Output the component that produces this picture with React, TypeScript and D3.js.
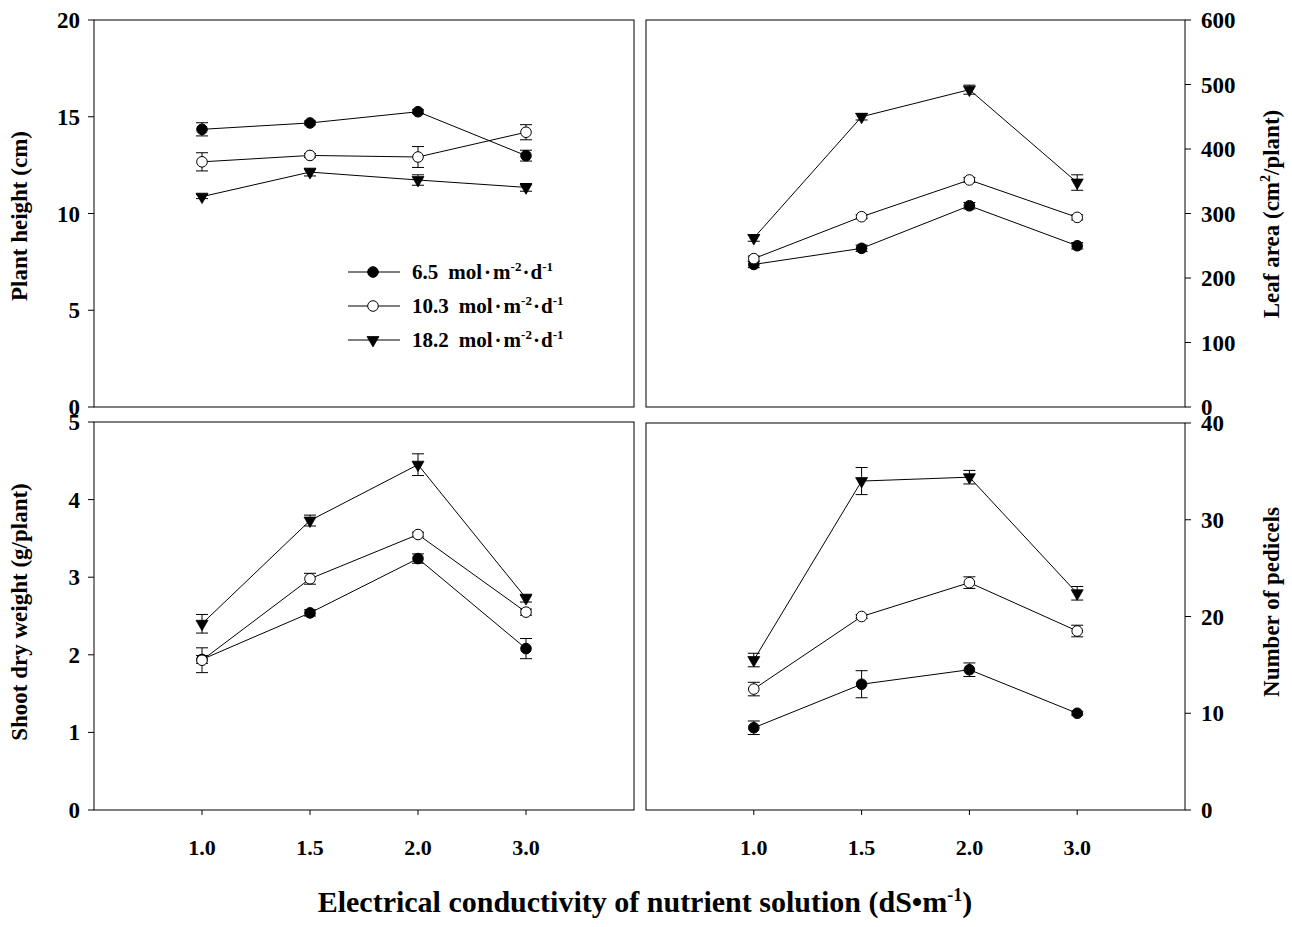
import React from "react";
import * as d3 from "d3";

const categories = ["1.0", "1.5", "2.0", "3.0"];
const seriesNames = ["6.5", "10.3", "18.2"];

// Plant height (cm)
const height65 = [14.35, 14.68, 15.26, 12.99];
const height65Err = [0.34, 0.1, 0.1, 0.28];
const height103 = [12.67, 13.0, 12.92, 14.2];
const height103Err = [0.47, 0.1, 0.54, 0.39];
const height182 = [10.87, 12.14, 11.73, 11.35];
const height182Err = [0.1, 0.2, 0.27, 0.2];

// Leaf area (cm2/plant)
const leaf65 = [221, 246, 312, 250];
const leaf65Err = [5, 5, 5, 5];
const leaf103 = [230, 295, 352, 294];
const leaf103Err = [4, 3, 4, 4];
const leaf182 = [262, 450, 492, 348];
const leaf182Err = [5, 5, 7, 12];

// Shoot dry weight (g/plant)
const shoot65 = [1.94, 2.54, 3.24, 2.08];
const shoot65Err = [0.05, 0.04, 0.06, 0.13];
const shoot103 = [1.93, 2.98, 3.55, 2.55];
const shoot103Err = [0.16, 0.07, 0.03, 0.04];
const shoot182 = [2.4, 3.73, 4.45, 2.73];
const shoot182Err = [0.12, 0.07, 0.14, 0.05];

// Number of pedicels
const ped65 = [8.5, 13.0, 14.5, 10.0];
const ped65Err = [0.7, 1.4, 0.7, 0.2];
const ped103 = [12.5, 20.0, 23.5, 18.5];
const ped103Err = [0.7, 0.2, 0.6, 0.6];
const ped182 = [15.5, 34.0, 34.4, 22.4];
const ped182Err = [0.7, 1.4, 0.7, 0.7];

const heightTicks = [0, 5, 10, 15, 20];
const leafTicks = [0, 100, 200, 300, 400, 500, 600];
const shootTicks = [0, 1, 2, 3, 4, 5];
const pedTicks = [0, 10, 20, 30, 40];

const FONT = "'Liberation Serif', 'Times New Roman', serif";
const markerTypes = ["filled", "open", "tri"];

type Panel = {
  x0: number; x1: number; y0: number; y1: number;
  side: "left" | "right";
  ticks: number[]; max: number;
  title: React.ReactNode; titleY: number;
  showX: boolean;
  data: number[][]; errs: number[][];
};

function Marker({ type, x, y }: { type: string; x: number; y: number }) {
  if (type === "tri") {
    const p = d3.symbol().type(d3.symbolTriangle).size(62)();
    return <path d={p || ""} transform={`translate(${x},${y}) rotate(180)`} fill="#000" stroke="#000" strokeWidth={0.8} />;
  }
  return <circle cx={x} cy={y} r={5.3} fill={type === "filled" ? "#000" : "#fff"} stroke="#000" strokeWidth={1} />;
}

function PanelView({ p }: { p: Panel }) {
  const xs = d3.scaleLinear().domain([0, 5]).range([p.x0, p.x1]);
  const ys = d3.scaleLinear().domain([0, p.max]).range([p.y1, p.y0]);
  const line = d3.line<number>().x((_, i) => xs(i + 1)).y((d) => ys(d));
  const axisX = p.side === "left" ? p.x0 : p.x1;
  const dir = p.side === "left" ? -1 : 1;
  return (
    <g>
      <rect x={p.x0} y={p.y0} width={p.x1 - p.x0} height={p.y1 - p.y0} fill="none" stroke="#000" strokeWidth={1} />
      {p.ticks.map((t) => (
        <g key={t}>
          <line x1={axisX} x2={axisX + dir * 6} y1={ys(t)} y2={ys(t)} stroke="#000" />
          <text
            x={p.side === "left" ? axisX - 14 : axisX + 16}
            y={ys(t)}
            dy="0.35em"
            textAnchor={p.side === "left" ? "end" : "start"}
            fontFamily={FONT}
            fontWeight="bold"
            fontSize={23}
          >
            {t}
          </text>
        </g>
      ))}
      {p.showX &&
        categories.map((c, i) => (
          <g key={c}>
            <line x1={xs(i + 1)} x2={xs(i + 1)} y1={p.y1} y2={p.y1 + 5} stroke="#000" />
            <text x={xs(i + 1)} y={p.y1 + 45} textAnchor="middle" fontFamily={FONT} fontWeight="bold" fontSize={22}>
              {c}
            </text>
          </g>
        ))}
      {p.data.map((s, si) => (
        <path key={"l" + si} d={line(s) || ""} fill="none" stroke="#000" strokeWidth={1} />
      ))}
      {p.data.map((s, si) =>
        s.map((v, i) => {
          const e = p.errs[si][i];
          const x = xs(i + 1);
          return (
            <g key={"e" + si + i} stroke="#000" strokeWidth={1}>
              <line x1={x} x2={x} y1={ys(v - e)} y2={ys(v + e)} />
              <line x1={x - 6} x2={x + 6} y1={ys(v - e)} y2={ys(v - e)} />
              <line x1={x - 6} x2={x + 6} y1={ys(v + e)} y2={ys(v + e)} />
            </g>
          );
        })
      )}
      {p.data.map((s, si) =>
        s.map((v, i) => <Marker key={"m" + si + i} type={markerTypes[si]} x={xs(i + 1)} y={ys(v)} />)
      )}
      <text
        transform={`translate(${p.side === "left" ? 27 : 1279},${p.titleY}) rotate(-90)`}
        textAnchor="middle"
        fontFamily={FONT}
        fontWeight="bold"
        fontSize={23}
      >
        {p.title}
      </text>
    </g>
  );
}

export default function App() {
  const panels: Panel[] = [
    {
      x0: 94, x1: 634, y0: 20, y1: 407, side: "left", ticks: heightTicks, max: 20,
      title: "Plant height (cm)", titleY: 216, showX: false,
      data: [height65, height103, height182], errs: [height65Err, height103Err, height182Err],
    },
    {
      x0: 646, x1: 1185, y0: 20, y1: 407, side: "right", ticks: leafTicks, max: 600,
      title: (
        <>
          Leaf area (cm<tspan dy="-9" fontSize={14}>2</tspan>
          <tspan dy="9">/plant)</tspan>
        </>
      ),
      titleY: 214, showX: false,
      data: [leaf65, leaf103, leaf182], errs: [leaf65Err, leaf103Err, leaf182Err],
    },
    {
      x0: 94, x1: 634, y0: 422, y1: 810, side: "left", ticks: shootTicks, max: 5,
      title: "Shoot dry weight (g/plant)", titleY: 612, showX: true,
      data: [shoot65, shoot103, shoot182], errs: [shoot65Err, shoot103Err, shoot182Err],
    },
    {
      x0: 646, x1: 1185, y0: 423, y1: 810, side: "right", ticks: pedTicks, max: 40,
      title: "Number of pedicels", titleY: 602, showX: true,
      data: [ped65, ped103, ped182], errs: [ped65Err, ped103Err, ped182Err],
    },
  ];

  const legendRows = [272, 306, 340];

  return (
    <svg width={1292} height={927} style={{ position: "absolute", left: 0, top: 0, background: "#fff" }}>
      <rect width={1292} height={927} fill="#fff" />
      {panels.map((p, i) => (
        <PanelView key={i} p={p} />
      ))}
      {seriesNames.map((n, i) => (
        <g key={n}>
          <line x1={348} x2={400} y1={legendRows[i]} y2={legendRows[i]} stroke="#000" />
          <Marker type={markerTypes[i]} x={373} y={legendRows[i]} />
          <text x={412} y={legendRows[i] + 7} fontFamily={FONT} fontWeight="bold" fontSize={21}>
            {n}
            <tspan dx="10">mol</tspan>
            <tspan dx="2">·</tspan>
            <tspan dx="2">m</tspan>
            <tspan dy="-8" fontSize={13}>-2</tspan>
            <tspan dy="8" dx="1">·</tspan>
            <tspan dx="1">d</tspan>
            <tspan dy="-8" fontSize={13}>-1</tspan>
          </text>
        </g>
      ))}
      <text x={645} y={912} textAnchor="middle" fontFamily={FONT} fontWeight="bold" fontSize={30}>
        Electrical conductivity of nutrient solution (dS•m
        <tspan dy="-11" fontSize={18}>-1</tspan>
        <tspan dy="11">)</tspan>
      </text>
    </svg>
  );
}
